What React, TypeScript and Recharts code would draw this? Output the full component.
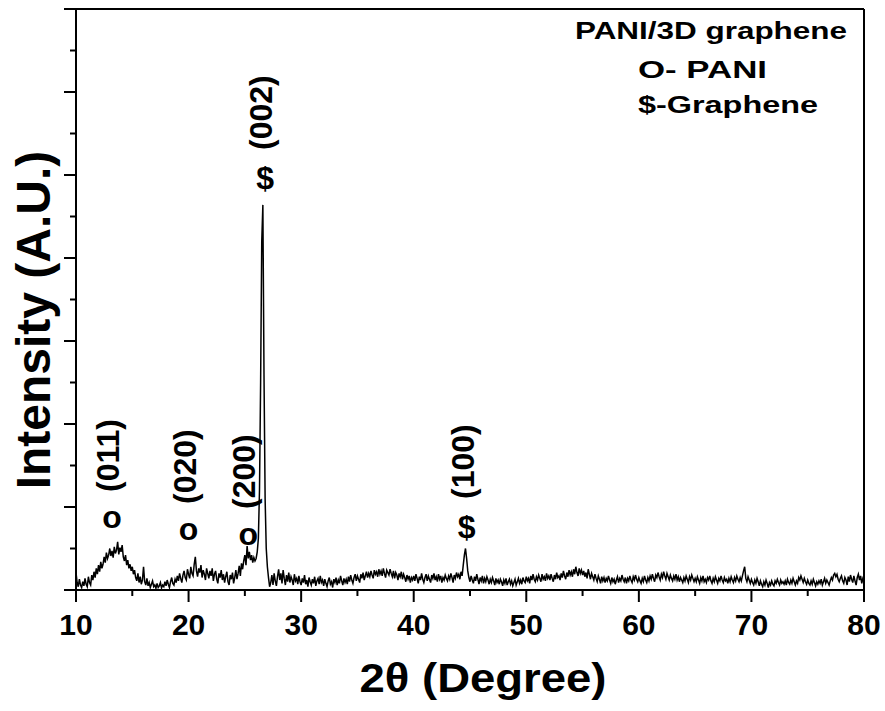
import { Label, Line, LineChart, ReferenceDot, XAxis, YAxis } from "recharts";

const FONT = "'Liberation Sans', Arial, sans-serif";

// scan grid: 10° to 80° in 0.1° steps
const startAngle = 10;
const angleStep = 0.1;

// measured intensity (counts), one row per degree
const intensity: number[] = [
  210, 90, 40, 130, 60, 30, 100, 50, 140, 70,
  40, 160, 90, 60, 180, 120, 220, 150, 260, 190,
  300, 220, 340, 260, 310, 400, 330, 450, 380, 420,
  500, 410, 470, 390, 520, 440, 480, 580, 430, 510,
  460, 540, 400, 350, 420, 300, 360, 260, 310, 230,
  280, 190, 240, 150, 110, 200, 90, 160, 70, 120,
  280, 100, 60, 140, 50, 90, 30, 70, 110, 40,
  60, 20, 80, 30, 50, 90, 25, 60, 40, 100,
  50, 120, 70, 30, 100, 150, 80, 60, 130, 90,
  170, 110, 200, 140, 90, 180, 230, 150, 120, 250,
  190, 140, 280, 200, 170, 310, 400, 230, 160, 260,
  210, 300, 150, 240, 190, 120, 260, 200, 140, 230,
  170, 260, 110, 190, 230, 130, 80, 200, 150, 240,
  120, 190, 90, 160, 220, 100, 60, 180, 130, 210,
  80, 150, 240, 130, 200, 290, 170, 320, 250, 350,
  420, 300, 530, 380, 460, 360, 420, 330, 390, 350,
  380, 460, 620, 1200, 2500, 4200, 4640, 2600, 1100, 500,
  280, 150, 40, 90, 180, 60, 200, 110, 50, 160,
  250, 120, 200, 80, 240, 140, 60, 180, 100, 210,
  90, 160, 120, 60, 190, 110, 140, 70, 170, 100,
  60, 140, 90, 180, 70, 120, 40, 150, 100, 60,
  130, 80, 160, 50, 110, 140, 70, 170, 90, 120,
  50, 130, 80, 40, 110, 150, 70, 100, 30, 130,
  90, 150, 60, 120, 80, 170, 110, 60, 140, 90,
  130, 70, 160, 100, 180, 120, 80, 150, 190, 110,
  170, 130, 90, 190, 140, 210, 120, 170, 220, 150,
  200, 160, 230, 180, 140, 240, 190, 220, 160, 250,
  190, 230, 170, 260, 200, 150, 240, 210, 180, 250,
  200, 160, 230, 140, 210, 180, 120, 200, 160, 220,
  130, 190, 150, 100, 180, 130, 170, 90, 150, 120,
  170, 110, 190, 140, 80, 160, 120, 200, 130, 90,
  150, 190, 110, 170, 130, 90, 180, 140, 200, 120,
  160, 100, 190, 130, 170, 90, 150, 120, 180, 140,
  110, 170, 130, 200, 150, 90, 180, 140, 210, 160,
  190, 130, 220, 170, 300, 420, 500, 380, 230, 150,
  100, 170, 120, 80, 160, 110, 190, 130, 70, 150,
  110, 170, 80, 140, 100, 160, 120, 70, 130, 90,
  150, 110, 60, 140, 90, 120, 70, 130, 100, 50,
  120, 80, 140, 60, 100, 130, 70, 110, 50, 90,
  130, 60, 100, 140, 80, 120, 70, 150, 110, 90,
  160, 110, 140, 80, 170, 120, 190, 130, 100, 160,
  120, 180, 140, 100, 190, 130, 160, 110, 200, 140,
  170, 120, 190, 140, 100, 180, 130, 210, 150, 170,
  120, 200, 150, 230, 170, 130, 210, 160, 240, 180,
  220, 160, 250, 190, 280, 210, 170, 260, 200, 240,
  180, 230, 160, 210, 140, 250, 190, 130, 200, 160,
  120, 190, 140, 100, 170, 130, 80, 160, 110, 150,
  90, 140, 110, 170, 120, 80, 150, 100, 130, 70,
  120, 160, 90, 140, 110, 180, 130, 100, 150, 80,
  140, 110, 170, 120, 90, 160, 120, 180, 130, 100,
  150, 110, 80, 140, 100, 170, 120, 90, 150, 110,
  170, 130, 190, 140, 100, 180, 150, 210, 160, 120,
  190, 150, 220, 170, 130, 200, 160, 120, 180, 140,
  110, 170, 130, 190, 120, 160, 100, 150, 120, 90,
  150, 110, 170, 130, 90, 160, 120, 180, 140, 100,
  140, 100, 160, 120, 80, 150, 110, 170, 100, 130,
  90, 150, 120, 170, 110, 80, 140, 100, 160, 120,
  80, 140, 110, 170, 120, 90, 150, 110, 130, 80,
  140, 100, 160, 120, 90, 150, 110, 170, 130, 100,
  150, 110, 170, 230, 280, 140, 100, 160, 120, 80,
  130, 90, 60, 120, 80, 140, 100, 50, 110, 70,
  40, 100, 60, 120, 80, 30, 90, 60, 110, 70,
  50, 110, 80, 130, 90, 60, 120, 80, 100, 70,
  110, 60, 130, 90, 70, 120, 80, 140, 100, 60,
  110, 80, 150, 120, 170, 130, 90, 140, 100, 70,
  120, 80, 60, 110, 70, 130, 90, 50, 100, 70,
  110, 80, 130, 60, 100, 140, 80, 120, 90, 60,
  110, 150, 120, 180, 200, 160, 190, 130, 100, 140,
  170, 110, 80, 150, 120, 60, 160, 100, 180, 130,
  90, 170, 110, 60, 150, 190, 120, 170, 80, 140,
  110,
];

const angleTicks = [10, 15, 20, 25, 30, 35, 40, 45, 50, 55, 60, 65, 70, 75, 80];
const intensityTicks = [0, 500, 1000, 1500, 2000, 2500, 3000, 3500, 4000, 4500, 5000, 5500, 6000, 6500, 7000];

// reflections: Miller index, phase marker, where the marker sits
const peakLabels = ["(011)", "(020)", "(200)", "(002)", "(100)"];
const peakMarkers = ["o", "o", "o", "$", "$"];
const peakAngles = [13.2, 20.0, 25.3, 26.8, 44.7];
const peakMarkerHeights = [843, 699, 639, 4964, 759];

const legendLines = ["PANI/3D graphene", "O- PANI", "$-Graphene"];

const data = intensity.map((value, i) => ({
  angle: Number((startAngle + i * angleStep).toFixed(1)),
  intensity: value,
}));

function AngleTick({ x, y, payload }: any) {
  const major = payload.value % 10 === 0;
  return (
    <g>
      <line x1={x} x2={x} y1={y} y2={y + (major ? 12 : 6)} stroke="#000" strokeWidth={2} />
      {major && (
        <text x={x} y={y + 45} textAnchor="middle" fontFamily={FONT} fontWeight="bold" fontSize={30} fill="#000">
          {payload.value}
        </text>
      )}
    </g>
  );
}

function IntensityTick({ x, y, payload }: any) {
  const major = payload.value % 1000 === 0;
  return <line x1={x - (major ? 12 : 6)} x2={x} y1={y} y2={y} stroke="#000" strokeWidth={2} />;
}

function PeakMark({ cx, cy, marker, hkl }: { cx: number; cy: number; marker: string; hkl: string }) {
  const baseline = marker === "o" ? cy + 8 : cy + 11;
  return (
    <g fontFamily={FONT} fontWeight="bold" fontSize={32} fill="#000">
      <text x={cx} y={baseline} textAnchor="middle">
        {marker}
      </text>
      <text
        transform={`translate(${cx - 4}, ${cy - 28}) rotate(-90)`}
        textAnchor="start"
        dominantBaseline="central"
      >
        {hkl}
      </text>
    </g>
  );
}

export default function App() {
  return (
    <div style={{ position: "absolute", left: 0, top: 0, width: 885, height: 711, background: "#fff" }}>
      <LineChart width={885} height={711} data={data} margin={{ top: 0, right: 0, bottom: 0, left: 0 }}>
        <XAxis
          dataKey="angle"
          type="number"
          domain={[10, 80]}
          ticks={angleTicks}
          interval={0}
          height={121}
          tickSize={0}
          tickMargin={0}
          tickLine={false}
          tick={(props: any) => <AngleTick {...props} />}
          axisLine={{ stroke: "#000", strokeWidth: 2 }}
          allowDataOverflow
        >
          <Label
            content={() => (
              <text
                x={483}
                y={692}
                textAnchor="middle"
                fontFamily={FONT}
                fontWeight="bold"
                fontSize={41}
                textLength={247}
                lengthAdjust="spacingAndGlyphs"
                fill="#000"
              >
                2θ (Degree)
              </text>
            )}
          />
        </XAxis>
        <XAxis xAxisId="top" orientation="top" type="number" domain={[10, 80]} height={9} tick={false} tickLine={false} axisLine={{ stroke: "#000", strokeWidth: 2 }} />
        <YAxis
          type="number"
          domain={[0, 7000]}
          ticks={intensityTicks}
          interval={0}
          width={76}
          tickSize={0}
          tickMargin={0}
          tickLine={false}
          tick={(props: any) => <IntensityTick {...props} />}
          axisLine={{ stroke: "#000", strokeWidth: 2 }}
          allowDataOverflow
        >
          <Label
            content={() => (
              <text
                x={50}
                y={320}
                transform="rotate(-90, 50, 320)"
                textAnchor="middle"
                fontFamily={FONT}
                fontWeight="bold"
                fontSize={48}
                fill="#000"
              >
                Intensity (A.U.)
              </text>
            )}
          />
        </YAxis>
        <YAxis yAxisId="right" orientation="right" type="number" domain={[0, 7000]} width={21} tick={false} tickLine={false} axisLine={{ stroke: "#000", strokeWidth: 2 }} />
        <Line
          type="linear"
          dataKey="intensity"
          stroke="#000"
          strokeWidth={1.5}
          dot={false}
          activeDot={false}
          isAnimationActive={false}
        />
        {peakLabels.map((hkl, i) => (
          <ReferenceDot
            key={hkl}
            x={peakAngles[i]}
            y={peakMarkerHeights[i]}
            r={0}
            shape={(p: any) => <PeakMark cx={p.cx} cy={p.cy} marker={peakMarkers[i]} hkl={hkl} />}
          />
        ))}
      </LineChart>
      <svg width={885} height={150} style={{ position: "absolute", left: 0, top: 0, pointerEvents: "none" }}>
        <g fontFamily={FONT} fontWeight="bold" fontSize={24} fill="#000">
          <text x={575} y={39} textLength={272} lengthAdjust="spacingAndGlyphs">
            {legendLines[0]}
          </text>
          <text x={638} y={78} textLength={129} lengthAdjust="spacingAndGlyphs">
            {legendLines[1]}
          </text>
          <text x={638} y={113} textLength={180} lengthAdjust="spacingAndGlyphs">
            {legendLines[2]}
          </text>
        </g>
      </svg>
    </div>
  );
}
